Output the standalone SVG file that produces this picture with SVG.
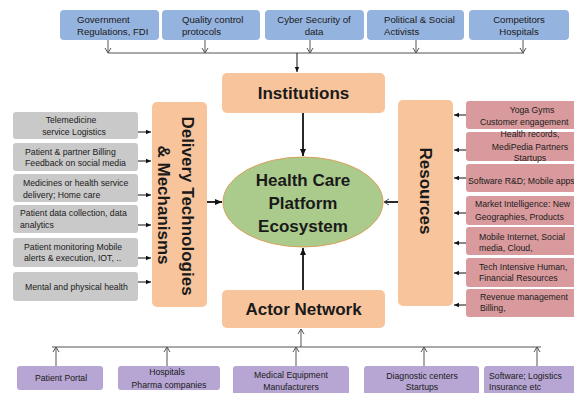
<svg xmlns="http://www.w3.org/2000/svg" width="574" height="393" viewBox="0 0 574 393">
<defs>
<style>
.t{font-family:"Liberation Sans",Arial,sans-serif;font-size:8.7px;fill:#1a1a1a}
.tt{font-family:"Liberation Sans",Arial,sans-serif;font-size:9.6px;fill:#1a1a1a}
.big{font-family:"Liberation Sans",Arial,sans-serif;font-size:17px;font-weight:bold;fill:#1a1a1a}
.blue{fill:#95b3df}
.org{fill:#f8c49c}
.gray{fill:#c9c9c9}
.pink{fill:#d99a9e}
.pur{fill:#b7a6d3}
.thin{stroke:#555;stroke-width:1;fill:none}
.blk{stroke:#111;stroke-width:1.8;fill:none}
.sm{stroke:#111;stroke-width:1;fill:none}
</style>
<marker id="open" markerWidth="8" markerHeight="8" refX="6" refY="4" orient="auto" markerUnits="userSpaceOnUse">
<path d="M1,1 L6,4 L1,7" fill="none" stroke="#555" stroke-width="1"/>
</marker>
<marker id="fill" markerWidth="8" markerHeight="8" refX="7" refY="4" orient="auto" markerUnits="userSpaceOnUse">
<path d="M0,1 L7,4 L0,7 Z" fill="#111"/>
</marker>
<marker id="fsm" markerWidth="6" markerHeight="6" refX="5" refY="3" orient="auto" markerUnits="userSpaceOnUse">
<path d="M0,0.8 L5,3 L0,5.2 Z" fill="#111"/>
</marker>
</defs>
<rect width="574" height="393" fill="#ffffff"/>

<g id="top-gov"><rect class="blue" x="60" y="10" width="99" height="30" rx="4"/><text class="tt" x="77" y="22.5">Government</text><text class="tt" x="77" y="35">Regulations, FDI</text></g>
<g id="top-qc"><rect class="blue" x="162" y="10" width="98" height="30" rx="4"/><text class="tt" x="182" y="22.5">Quality control</text><text class="tt" x="182" y="35">protocols</text></g>
<g id="top-cyber"><rect class="blue" x="265" y="10" width="99" height="30" rx="4"/><text class="tt" x="314" y="22.5" text-anchor="middle">Cyber Security of</text><text class="tt" x="314" y="35" text-anchor="middle">data</text></g>
<g id="top-pol"><rect class="blue" x="367" y="10" width="97" height="30" rx="4"/><text class="tt" x="384" y="22.5">Political &amp; Social</text><text class="tt" x="384" y="35">Activists</text></g>
<g id="top-comp"><rect class="blue" x="469" y="10" width="100" height="30" rx="4"/><text class="tt" x="519" y="22.5" text-anchor="middle">Competitors</text><text class="tt" x="519" y="35" text-anchor="middle">Hospitals</text></g>

<g id="institutions"><rect class="org" x="222" y="73" width="163" height="40" rx="5"/><text class="big" x="303.5" y="99" text-anchor="middle">Institutions</text></g>

<g id="ecosystem"><ellipse cx="303" cy="202" rx="80" ry="45" fill="#aacb8b" stroke="#d9a05b" stroke-width="1"/><text class="big" font-size="16.5" x="303" y="186" text-anchor="middle">Health Care</text><text class="big" font-size="16.5" x="303" y="209" text-anchor="middle">Platform</text><text class="big" font-size="16.5" x="303" y="232" text-anchor="middle">Ecosystem</text></g>

<g id="actor-network"><rect class="org" x="222" y="290" width="163" height="38" rx="5"/><text class="big" x="303.5" y="315" text-anchor="middle">Actor Network</text></g>

<g id="delivery"><rect class="org" x="152" y="102" width="55" height="205" rx="5"/><text class="big" font-size="16.2" transform="translate(181.5,206) rotate(90)" text-anchor="middle">Delivery Technologies</text><text class="big" font-size="16.2" transform="translate(157.5,205) rotate(90)" text-anchor="middle">&amp; Mechanisms</text></g>

<g id="resources"><rect class="org" x="398" y="100" width="55" height="206" rx="5"/><text class="big" font-size="16.5" transform="translate(420,191) rotate(90)" text-anchor="middle">Resources</text></g>

<g id="l1"><rect class="gray" x="13" y="112" width="125" height="27" rx="3"/><text class="t" x="71" y="123" text-anchor="middle">Telemedicine</text><text class="t" x="74" y="135" text-anchor="middle">service Logistics</text></g>
<g id="l2"><rect class="gray" x="13" y="143" width="125" height="28" rx="3"/><text class="t" x="25" y="155">Patient &amp;  partner Billing</text><text class="t" x="25" y="166">Feedback on social media</text></g>
<g id="l3"><rect class="gray" x="13" y="174" width="125" height="28" rx="3"/><text class="t" x="23" y="186">Medicines or health service</text><text class="t" x="23" y="198">delivery; Home care</text></g>
<g id="l4"><rect class="gray" x="13" y="205" width="125" height="28" rx="3"/><text class="t" x="20" y="216">Patient data collection, data</text><text class="t" x="20" y="228">analytics</text></g>
<g id="l5"><rect class="gray" x="13" y="238" width="125" height="29" rx="3"/><text class="t" x="24" y="250">Patient monitoring Mobile</text><text class="t" x="24" y="261">alerts  &amp;  execution, IOT, ..</text></g>
<g id="l6"><rect class="gray" x="13" y="272" width="125" height="29" rx="3"/><text class="t" x="25" y="290">Mental and physical health</text></g>

<g id="r1"><rect class="pink" x="466" y="101" width="112" height="28" rx="3"/><text class="t" x="532" y="113" text-anchor="middle">Yoga Gyms</text><text class="t" x="480" y="125">Customer engagement</text></g>
<g id="r2"><rect class="pink" x="466" y="132" width="112" height="29" rx="3"/><text class="t" x="530" y="137" text-anchor="middle">Health records,</text><text class="t" x="530" y="150" text-anchor="middle">MediPedia Partners</text><text class="t" x="530" y="161" text-anchor="middle">Startups</text></g>
<g id="r3"><rect class="pink" x="466" y="164" width="112" height="28" rx="3"/><text class="t" x="468" y="184" font-size="7.8">Software R&amp;D;  Mobile apps</text></g>
<g id="r4"><rect class="pink" x="466" y="196" width="112" height="29" rx="3"/><text class="t" x="475" y="207">Market Intelligence: New</text><text class="t" x="475" y="220">Geographies, Products</text></g>
<g id="r5"><rect class="pink" x="466" y="227" width="112" height="28" rx="3"/><text class="t" x="479" y="240">Mobile Internet, Social</text><text class="t" x="479" y="251">media, Cloud,</text></g>
<g id="r6"><rect class="pink" x="466" y="258" width="112" height="29" rx="3"/><text class="t" x="479" y="270">Tech Intensive Human,</text><text class="t" x="479" y="281">Financial Resources</text></g>
<g id="r7"><rect class="pink" x="466" y="289" width="112" height="28" rx="3"/><text class="t" x="480" y="300">Revenue management</text><text class="t" x="480" y="311">Billing,</text></g>

<g id="b1"><rect class="pur" x="17" y="366" width="86" height="24" rx="3"/><text class="t" x="61" y="381" text-anchor="middle">Patient Portal</text></g>
<g id="b2"><rect class="pur" x="118" y="366" width="102" height="24" rx="3"/><text class="t" x="167" y="375" text-anchor="middle">Hospitals</text><text class="t" x="169" y="388" text-anchor="middle">Pharma companies</text></g>
<g id="b3"><rect class="pur" x="233" y="366" width="116" height="30" rx="3"/><text class="t" x="291" y="378" text-anchor="middle">Medical Equipment</text><text class="t" x="291" y="390" text-anchor="middle">Manufacturers</text></g>
<g id="b4"><rect class="pur" x="364" y="366" width="115" height="30" rx="3"/><text class="t" x="422" y="379" text-anchor="middle">Diagnostic centers</text><text class="t" x="422" y="390" text-anchor="middle">Startups</text></g>
<g id="b5"><rect class="pur" x="484" y="366" width="95" height="30" rx="3"/><text class="t" x="489" y="379">Software; Logistics</text><text class="t" x="489" y="390">Insurance etc</text></g>

<g id="connectors">
<line class="thin" x1="108" y1="53" x2="524" y2="53" stroke-width="1.3"/>
<line class="thin" x1="108" y1="40" x2="108" y2="53" marker-end="url(#open)"/>
<line class="thin" x1="205" y1="40" x2="205" y2="53" marker-end="url(#open)"/>
<line class="thin" x1="310" y1="40" x2="310" y2="53" marker-end="url(#open)"/>
<line class="thin" x1="416" y1="40" x2="416" y2="53" marker-end="url(#open)"/>
<line class="thin" x1="523" y1="40" x2="523" y2="53" marker-end="url(#open)"/>
<line class="sm" x1="297" y1="53" x2="297" y2="72" marker-end="url(#fsm)"/>

<line class="blk" x1="303" y1="113" x2="303" y2="156" marker-end="url(#fill)"/>
<line class="blk" x1="303" y1="290" x2="303" y2="248" marker-end="url(#fill)"/>
<line class="blk" x1="207" y1="202" x2="222" y2="202" marker-end="url(#fill)"/>
<line class="blk" x1="398" y1="202" x2="384" y2="202" marker-end="url(#open)" stroke="#111"/>

<line class="sm" x1="138" y1="132" x2="151" y2="132" marker-end="url(#fsm)"/>
<line class="sm" x1="138" y1="161" x2="151" y2="161" marker-end="url(#fsm)"/>
<line class="sm" x1="138" y1="195" x2="151" y2="195" marker-end="url(#fsm)"/>
<line class="sm" x1="138" y1="225" x2="151" y2="225" marker-end="url(#fsm)"/>
<line class="sm" x1="138" y1="258" x2="151" y2="258" marker-end="url(#fsm)"/>
<line class="sm" x1="138" y1="282" x2="151" y2="282" marker-end="url(#fsm)"/>

<line class="sm" x1="466" y1="115" x2="454" y2="115" marker-end="url(#fsm)"/>
<line class="sm" x1="466" y1="150" x2="454" y2="150" marker-end="url(#fsm)"/>
<line class="sm" x1="466" y1="178" x2="454" y2="178" marker-end="url(#fsm)"/>
<line class="sm" x1="466" y1="213" x2="454" y2="213" marker-end="url(#fsm)"/>
<line class="sm" x1="466" y1="243" x2="454" y2="243" marker-end="url(#fsm)"/>
<line class="sm" x1="466" y1="273" x2="454" y2="273" marker-end="url(#fsm)"/>
<line class="sm" x1="466" y1="305" x2="454" y2="305" marker-end="url(#fsm)"/>

<line class="thin" x1="52" y1="347" x2="541" y2="347" stroke-width="1.3"/>
<line class="thin" x1="56" y1="366" x2="56" y2="347" marker-end="url(#open)"/>
<line class="thin" x1="167" y1="366" x2="167" y2="347" marker-end="url(#open)"/>
<line class="thin" x1="296" y1="366" x2="296" y2="347" marker-end="url(#open)"/>
<line class="thin" x1="424" y1="366" x2="424" y2="347" marker-end="url(#open)"/>
<line class="thin" x1="537" y1="366" x2="537" y2="347" marker-end="url(#open)"/>
<line class="thin" x1="301" y1="347" x2="301" y2="329" marker-end="url(#open)"/>
</g>
</svg>
